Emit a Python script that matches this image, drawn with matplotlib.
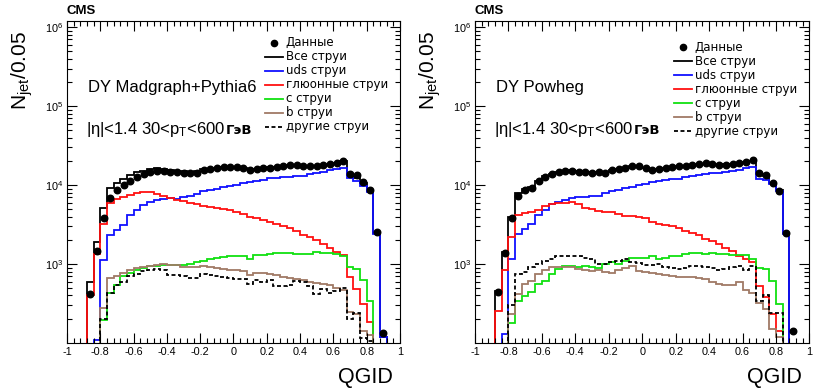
import numpy as np
import matplotlib
matplotlib.use("Agg")
import matplotlib.pyplot as plt
from matplotlib.ticker import FixedLocator, LogLocator, NullFormatter, MultipleLocator, FixedFormatter
from matplotlib.offsetbox import TextArea, HPacker, AnchoredOffsetbox

plt.rcParams['axes.unicode_minus'] = False
plt.rcParams['mathtext.fontset'] = 'custom'
plt.rcParams['mathtext.rm'] = 'Liberation Sans'
plt.rcParams['mathtext.it'] = 'Liberation Sans:italic'
plt.rcParams['mathtext.bf'] = 'Liberation Sans:bold'

# QGID binning: 50 bins of 0.04 on [-1, 1]; filled bins run from -0.88 to 0.92
edges = np.linspace(-1, 1, 51)
first_bin = 3

# ---- DY Madgraph+Pythia6 ----
data_mg = [420, 1450, 3800, 6900, 8600, 9900, 11300, 12800, 13900, 14800, 15300, 15000,
           14600, 14600, 14400, 14300, 14400, 15500, 16000, 16500, 17000, 17200, 17000, 16300,
           15500, 16000, 16500, 16500, 16800, 17500, 18000, 17800, 17300, 17500, 17500, 17800,
           18500, 19000, 20500, 14000, 13400, 10800, 8600, 2520, 134]
all_mg = [590, 1900, 5100, 9300, 10600, 12000, 13500, 14500, 15300, 16000, 16500, 16000,
          15500, 15200, 15000, 14800, 15000, 15800, 16200, 16600, 17000, 17200, 17000, 16500,
          15800, 16200, 16600, 16800, 17000, 17600, 18000, 17800, 17500, 17600, 17700, 17900,
          18300, 18800, 20000, 13400, 12300, 10500, 8500, 2450, 120]
uds_mg = [0, 110, 1130, 2350, 2700, 3100, 4200, 4800, 5600, 6200, 6500, 6700,
          6800, 6700, 7000, 7300, 7700, 8400, 8700, 9000, 9400, 9700, 10000, 10500,
          10900, 11300, 11700, 12200, 12400, 12500, 12700, 12900, 13200, 13800, 14200, 14800,
          15500, 15900, 16700, 12200, 11300, 9800, 8100, 2400, 118]
glu_mg = [410, 1340, 3240, 5900, 6600, 7000, 7500, 7900, 8100, 8100, 7700, 7300,
          6850, 6500, 6300, 5900, 5700, 5500, 5300, 5200, 5000, 4800, 4600, 4300,
          4000, 3800, 3600, 3400, 3200, 3000, 2900, 2630, 2330, 2180, 2040, 1790,
          1580, 1430, 1300, 680, 490, 316, 186, 0, 0]
c_mg = [0, 0, 197, 425, 547, 700, 770, 850, 890, 935, 953, 980,
        980, 970, 970, 1000, 1050, 1100, 1150, 1180, 1220, 1250, 1280, 1250,
        1150, 1300, 1320, 1350, 1380, 1400, 1370, 1340, 1340, 1360, 1430, 1390,
        1370, 1330, 1280, 910, 860, 620, 345, 0, 0]
b_mg = [0, 0, 277, 665, 700, 770, 850, 890, 916, 935, 960, 1010,
        980, 960, 930, 910, 905, 935, 920, 880, 870, 850, 850, 820,
        730, 770, 760, 750, 720, 680, 660, 640, 620, 600, 580, 560,
        540, 500, 470, 250, 230, 140, 125, 0, 0]
other_mg = [0, 0, 200, 425, 550, 585, 700, 750, 825, 850, 865, 830,
            733, 730, 700, 670, 660, 750, 730, 700, 680, 660, 650, 640,
            560, 620, 590, 630, 520, 530, 540, 615, 600, 530, 420, 490,
            430, 460, 500, 200, 240, 115, 107, 0, 0]

# ---- DY Powheg ----
data_pw = [440, 1400, 3800, 7300, 8800, 9300, 11200, 12800, 13800, 14500, 15000, 15300,
           14700, 14700, 14400, 14700, 14400, 15600, 16000, 16600, 17300, 17300, 16600, 15500,
           15800, 16300, 16800, 17300, 17600, 18200, 18500, 18800, 18300, 17900, 18200, 18500,
           19000, 19600, 20600, 14300, 13600, 10500, 8400, 2500, 140]
all_pw = [460, 1430, 4000, 8000, 8900, 9500, 11300, 12900, 13900, 14600, 15100, 15400,
          14900, 14800, 14600, 14800, 14600, 15700, 16100, 16700, 17300, 17300, 16700, 15700,
          15900, 16400, 16900, 17300, 17700, 18200, 18500, 18700, 18300, 18000, 18300, 18500,
          19000, 19500, 20400, 13800, 13000, 10700, 8700, 2450, 0]
uds_pw = [0, 130, 1150, 2400, 2800, 3200, 4200, 4900, 5700, 6100, 6400, 6900,
          7000, 7000, 7300, 7300, 7900, 8500, 8700, 9300, 9600, 10000, 10300, 10800,
          11300, 11700, 11900, 12100, 12500, 13100, 13400, 13800, 14200, 14450, 14750, 15200,
          15600, 16250, 16750, 12100, 11700, 10300, 8400, 2400, 0]
glu_pw = [257, 850, 2200, 4200, 4400, 4600, 4900, 5400, 5700, 5900, 6000, 6200,
          5700, 5100, 4950, 4750, 4600, 4550, 4300, 4100, 4050, 3950, 3850, 3400,
          3200, 3100, 3000, 2850, 2650, 2450, 2350, 2070, 1950, 1790, 1620, 1480,
          1270, 1150, 1050, 530, 380, 233, 143, 0, 0]
c_pw = [0, 0, 180, 344, 397, 437, 558, 615, 747, 865, 953, 950,
        908, 950, 930, 900, 1000, 1050, 1000, 1100, 1180, 1200, 1210, 1250,
        1160, 1200, 1250, 1270, 1340, 1400, 1400, 1350, 1400, 1350, 1350, 1300,
        1300, 1310, 1160, 880, 860, 615, 313, 0, 0]
b_pw = [0, 0, 233, 417, 558, 615, 747, 850, 930, 930, 910, 910,
        865, 840, 824, 830, 800, 770, 830, 880, 935, 824, 800, 770,
        750, 727, 710, 680, 677, 677, 660, 645, 590, 560, 545, 540,
        600, 470, 430, 320, 270, 150, 120, 0, 0]
other_pw = [0, 0, 303, 747, 800, 907, 1000, 1100, 1155, 1250, 1250, 1270,
            1250, 1200, 1150, 1000, 1000, 1050, 1100, 1150, 1050, 1030, 980, 980,
            1000, 930, 900, 870, 900, 940, 950, 930, 900, 850, 865, 930,
            950, 850, 950, 340, 410, 240, 240, 0, 0]

legend_labels = ["Данные", "Все струи", "uds струи", "глюонные струи",
                 "c струи", "b струи", "другие струи"]
colors = ["black", "black", "#1010ff", "#ff1010", "#10e010", "#a07a66", "black"]
styles = ["", "-", "-", "-", "-", "-", (0, (2.2, 1.4))]


def full(values):
    h = np.zeros(len(edges) - 1)
    h[first_bin:first_bin + len(values)] = values
    return h


def draw_panel(ax, title, data, mc, leg_x, leg_y):
    # MC histograms as outlines, empty bins pushed below the axis
    for h, col, ls in zip(mc, colors[1:], styles[1:]):
        h = full(h)
        ax.stairs(np.where(h > 0, h, 1e-2), edges, baseline=None,
                  color=col, linestyle=ls, lw=1.3)
    # data points on top
    d = full(data)
    centers = 0.5 * (edges[:-1] + edges[1:])
    ax.plot(centers[d > 0], d[d > 0], 'o', color='black', ms=4.7, zorder=5)

    ax.set_xlim(-1, 1)
    ax.set_yscale('log')
    ax.set_ylim(100, 1.2e6)
    ax.xaxis.set_minor_locator(MultipleLocator(0.04))
    ax.set_xticks(np.round(np.arange(-1, 1.01, 0.2), 1))
    ax.set_xticklabels(["-1", "-0.8", "-0.6", "-0.4", "-0.2", "0",
                        "0.2", "0.4", "0.6", "0.8", "1"])
    ax.yaxis.set_major_locator(FixedLocator([1e3, 1e4, 1e5, 1e6]))
    ax.yaxis.set_major_formatter(FixedFormatter([r"$10^{3}$", r"$10^{4}$",
                                                 r"$10^{5}$", r"$10^{6}$"]))
    ax.yaxis.set_minor_locator(LogLocator(base=10, subs=np.arange(2, 10)))
    ax.yaxis.set_minor_formatter(NullFormatter())
    ax.tick_params(which='both', direction='in', top=True, right=True,
                   labelsize=7.8, width=0.8, pad=3)
    ax.tick_params(which='major', length=7)
    ax.tick_params(which='minor', length=3.5)
    for lab in ax.get_xticklabels() + ax.get_yticklabels():
        lab.set_family('Liberation Sans')
    for s in ax.spines.values():
        s.set_linewidth(0.8)

    ax.text(0.0, 1.031, "CMS", transform=ax.transAxes, fontsize=9.5,
            fontweight='bold', family='Liberation Sans', va='center', ha='left')
    ax.text(0.978, -0.106, "QGID", transform=ax.transAxes, fontsize=15.5,
            family='Liberation Sans', ha='right', va='center')
    ax.text(-0.135, 0.968, r"N$_\mathrm{jet}$/0.05", transform=ax.transAxes,
            rotation=90, fontsize=15, family='Liberation Sans', ha='center', va='top')

    ax.text(0.062, 0.795, title, transform=ax.transAxes, fontsize=12,
            family='Liberation Sans', va='center')
    cut = HPacker(children=[
        TextArea(r"|η|<1.4 30<p$_\mathrm{T}$<600",
                 textprops=dict(fontsize=12, family='Liberation Sans')),
        TextArea("ГэВ", textprops=dict(fontsize=9.5, family='DejaVu Sans',
                                       fontweight='bold'))],
        align='baseline', pad=0, sep=0)
    ax.add_artist(AnchoredOffsetbox(loc='center left', child=cut, pad=0, borderpad=0,
                                    frameon=False, bbox_to_anchor=(0.058, 0.662),
                                    bbox_transform=ax.transAxes))

    # legend drawn by hand
    dy = 0.0435
    for k, (lab, col, ls) in enumerate(zip(legend_labels, colors, styles)):
        y = leg_y - k * dy
        if k == 0:
            ax.plot([leg_x + 0.028], [y], 'o', color=col, ms=4.5, transform=ax.transAxes)
        else:
            ax.plot([leg_x, leg_x + 0.055], [y, y], color=col, linestyle=ls, lw=1.3,
                    transform=ax.transAxes)
        ax.text(leg_x + 0.062, y, lab, transform=ax.transAxes, fontsize=8.5,
                family='DejaVu Sans', va='center')


fig = plt.figure(figsize=(8.15, 3.92), dpi=100)
ax1 = fig.add_axes([0.0822, 0.125, 0.4086, 0.8214])
ax2 = fig.add_axes([0.5828, 0.125, 0.4104, 0.8214])

draw_panel(ax1, "DY Madgraph+Pythia6", data_mg,
           [all_mg, uds_mg, glu_mg, c_mg, b_mg, other_mg], 0.595, 0.932)
draw_panel(ax2, "DY Powheg", data_pw,
           [all_pw, uds_pw, glu_pw, c_pw, b_pw, other_pw], 0.595, 0.919)

fig.savefig("out.png", dpi=100)
